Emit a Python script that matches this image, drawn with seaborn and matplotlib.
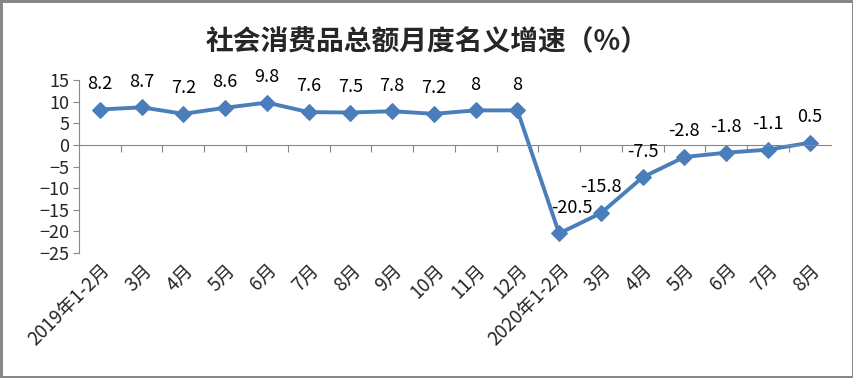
import matplotlib
matplotlib.use("Agg")
import matplotlib.pyplot as plt
import seaborn as sns
import pandas as pd

# data
months = ["2019年1-2月", "3月", "4月", "5月", "6月", "7月", "8月", "9月", "10月", "11月", "12月",
          "2020年1-2月", "3月", "4月", "5月", "6月", "7月", "8月"]
growth = [8.2, 8.7, 7.2, 8.6, 9.8, 7.6, 7.5, 7.8, 7.2, 8, 8,
          -20.5, -15.8, -7.5, -2.8, -1.8, -1.1, 0.5]
labels = ["8.2", "8.7", "7.2", "8.6", "9.8", "7.6", "7.5", "7.8", "7.2", "8", "8",
          "-20.5", "-15.8", "-7.5", "-2.8", "-1.8", "-1.1", "0.5"]
yticks = [15, 10, 5, 0, -5, -10, -15, -20, -25]

sns.set_style("white")
plt.rcParams['font.family'] = ['Noto Sans CJK SC', 'DejaVu Sans']

df = pd.DataFrame({"idx": range(len(months)), "growth": growth})

fig = plt.figure(figsize=(8.54, 3.78), dpi=100, linewidth=2.5, edgecolor="#878787")
ax = fig.add_axes([0.0925, 0.331, 0.88, 0.457])

color = "#4a7ebb"
sns.lineplot(data=df, x="idx", y="growth", ax=ax, color=color, linewidth=2.8,
             marker="D", markersize=8, markeredgecolor=color)

for i, (v, t) in enumerate(zip(growth, labels)):
    # the label at the trough sits a little right of its point, clear of the line
    dx = 9 if v == min(growth) else 0
    ax.annotate(t, (i, v), xytext=(dx, 12), textcoords="offset points",
                ha="center", va="bottom", fontsize=13, color="black")

n = len(months)
ax.set_xlim(-0.5, n - 0.5)
ax.set_ylim(-25, 15)
ax.set_yticks(yticks)
ax.tick_params(axis="y", direction="out", length=4, color="#888888", labelsize=13, pad=3, left=True)

# zero line with category boundary ticks
ax.spines["bottom"].set_position(("data", 0))
ax.spines["bottom"].set_color("#888888")
ax.spines["left"].set_color("#888888")
ax.spines["top"].set_visible(False)
ax.spines["right"].set_visible(False)
ax.set_xticks([i + 0.5 for i in range(n - 1)])
ax.set_xticklabels([])
ax.tick_params(axis="x", direction="out", length=5, color="#888888", bottom=True)

sec = ax.secondary_xaxis("bottom")
sec.set_xticks(range(n))
sec.set_xticklabels(months, rotation=45, ha="right", rotation_mode="anchor", fontsize=13.5)
sec.tick_params(length=0, pad=5)
sec.spines["bottom"].set_visible(False)

ax.set_xlabel("")
ax.set_ylabel("")
ax.grid(False)

fig.suptitle("社会消费品总额月度名义增速（%）", fontsize=20, fontweight="bold", y=0.925)

fig.savefig("out.png", dpi=100, edgecolor=fig.get_edgecolor())
